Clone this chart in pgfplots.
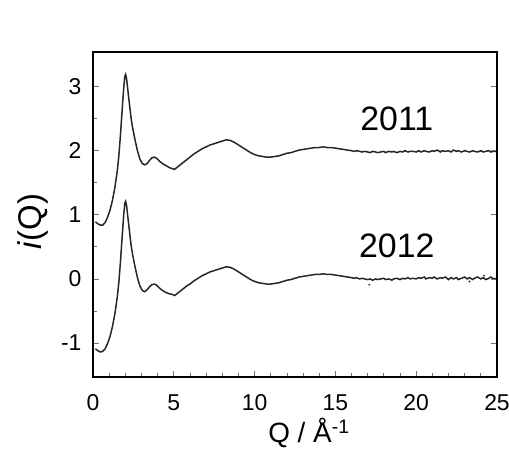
\documentclass[border=0pt]{standalone}
\usepackage{fontspec}
\setmainfont{Liberation Sans}
\usepackage{pgfplots}
\pgfplotsset{compat=1.18}
\usepackage{pgfplotstable}

\pgfplotstableread{
q y
0.15 0.89
0.3 0.86
0.45 0.84
0.6 0.84
0.75 0.88
0.9 0.96
1.05 1.07
1.2 1.22
1.35 1.42
1.5 1.68
1.6 1.92
1.7 2.25
1.8 2.62
1.9 2.98
1.97 3.16
2.02 3.19
2.08 3.12
2.15 2.96
2.25 2.74
2.35 2.52
2.45 2.36
2.6 2.17
2.75 2.00
2.9 1.87
3.05 1.80
3.2 1.78
3.35 1.80
3.5 1.85
3.65 1.89
3.8 1.90
3.95 1.88
4.1 1.84
4.3 1.80
4.5 1.77
4.7 1.74
4.9 1.72
5.05 1.71
5.2 1.74
5.4 1.78
5.6 1.82
5.8 1.86
6.0 1.90
6.25 1.95
6.5 1.99
6.75 2.03
7.0 2.06
7.25 2.09
7.5 2.11
7.75 2.13
8.0 2.15
8.25 2.17
8.5 2.16
8.75 2.13
9.0 2.09
9.25 2.05
9.5 2.01
9.75 1.97
10.0 1.94
10.25 1.92
10.5 1.91
10.75 1.90
11.0 1.90
11.25 1.91
11.5 1.92
11.75 1.94
12.0 1.96
12.25 1.97
12.5 1.99
12.75 2.01
13.0 2.02
13.25 2.03
13.5 2.04
13.75 2.05
14.0 2.05
14.25 2.06
14.5 2.05
14.75 2.05
15.0 2.04
15.25 2.03
15.5 2.02
15.75 2.01
16.0 2.00
16.15 1.99
16.3 2.00
16.5 1.99
16.65 1.98
16.8 1.99
17.0 1.98
17.15 1.97
17.3 1.99
17.5 1.98
17.6 1.97
17.8 1.98
18.0 1.99
18.1 1.97
18.3 1.99
18.5 1.98
18.6 1.99
18.8 1.97
19.0 1.99
19.15 1.98
19.3 2.00
19.5 1.98
19.6 1.99
19.8 1.99
20.0 1.98
20.15 2.00
20.3 1.98
20.5 2.00
20.6 1.99
20.8 1.98
21.0 2.00
21.1 1.99
21.3 2.01
21.5 1.98
21.6 2.00
21.8 1.99
22.0 2.00
22.15 1.98
22.3 2.01
22.5 1.99
22.6 2.00
22.8 1.98
23.0 2.00
23.15 1.99
23.3 1.98
23.5 2.00
23.6 1.99
23.8 1.98
24.0 2.00
24.15 1.98
24.3 1.99
24.5 2.00
24.6 1.98
24.8 1.99
25.0 1.99
}\dataA

\pgfplotstableread{
q y
0.15 -1.09
0.3 -1.12
0.45 -1.14
0.6 -1.13
0.75 -1.09
0.9 -1.01
1.05 -0.90
1.2 -0.75
1.35 -0.55
1.5 -0.29
1.6 -0.05
1.7 0.27
1.8 0.64
1.9 1.00
1.97 1.18
2.02 1.21
2.08 1.14
2.15 0.98
2.25 0.76
2.35 0.54
2.45 0.38
2.6 0.19
2.75 0.02
2.9 -0.11
3.05 -0.18
3.2 -0.20
3.35 -0.17
3.5 -0.12
3.65 -0.09
3.8 -0.08
3.95 -0.10
4.1 -0.14
4.3 -0.18
4.5 -0.21
4.7 -0.23
4.9 -0.24
5.05 -0.26
5.2 -0.23
5.4 -0.19
5.6 -0.15
5.8 -0.11
6.0 -0.08
6.25 -0.03
6.5 0.01
6.75 0.05
7.0 0.08
7.25 0.11
7.5 0.13
7.75 0.15
8.0 0.17
8.25 0.19
8.5 0.18
8.75 0.15
9.0 0.11
9.25 0.07
9.5 0.03
9.75 -0.01
10.0 -0.04
10.25 -0.06
10.5 -0.07
10.75 -0.08
11.0 -0.08
11.25 -0.07
11.5 -0.06
11.75 -0.04
12.0 -0.02
12.25 -0.01
12.5 0.01
12.75 0.03
13.0 0.04
13.25 0.05
13.5 0.06
13.75 0.07
14.0 0.07
14.25 0.08
14.5 0.07
14.75 0.07
15.0 0.06
15.25 0.05
15.5 0.04
15.75 0.03
16.0 0.02
16.15 0.01
16.3 0.02
16.5 0.00
16.65 0.01
16.8 0.00
17.0 -0.01
17.15 0.00
17.3 -0.02
17.5 0.00
17.6 -0.01
17.8 0.00
18.0 0.01
18.1 -0.01
18.3 0.00
18.5 -0.02
18.6 0.00
18.8 0.01
19.0 -0.01
19.15 0.01
19.3 0.00
19.5 0.02
19.6 0.00
19.8 0.01
20.0 0.00
20.15 0.02
20.3 0.01
20.5 0.03
20.6 0.00
20.8 0.02
21.0 0.01
21.1 0.03
21.3 0.00
21.5 0.02
21.6 0.01
21.8 0.03
22.0 -0.01
22.15 0.02
22.3 0.00
22.5 0.02
22.6 -0.01
22.8 0.01
23.0 0.03
23.15 0.00
23.3 0.02
23.5 -0.01
23.6 0.01
23.8 0.03
24.0 0.00
24.15 0.02
24.3 -0.01
24.5 0.01
24.6 0.03
24.8 0.00
25.0 0.01
}\dataB

\begin{document}
\begin{tikzpicture}
\path[use as bounding box] (-93bp,-73bp) rectangle (416bp,377bp);
\begin{axis}[
  at={(0,0)}, anchor=south west,
  scale only axis, width=404bp, height=325bp,
  xmin=0, xmax=25, ymin=-1.53, ymax=3.54,
  xtick={0,5,...,25}, ytick={-1,0,1,2,3},
  minor x tick num=4, minor y tick num=1,
  xtick pos=left, ytick pos=left,
  tick align=inside,
  major tick length=6bp, minor tick length=4bp,
  every tick/.style={black!55, line width=0.8bp},
  axis line style={line width=2.5bp, black},
  /pgf/number format/assume math mode=true,
  tick label style={font=\fontsize{23}{25}\selectfont},
  xticklabel style={yshift=-14bp},
  yticklabel style={xshift=-8bp},
  xlabel={Q / Å\textsuperscript{-1}},
  ylabel={\textit{i}(Q)},
  xlabel style={font=\fontsize{28}{30}\selectfont, xshift=14bp, yshift=-1bp},
  ylabel style={font=\fontsize{33}{35}\selectfont, yshift=6bp, xshift=-7bp},
  clip=true,
]
\addplot[black!85, line width=1.5bp] table[x=q, y=y] {\dataA};
\addplot[black!85, line width=1.5bp] table[x=q, y=y] {\dataB};
\addplot[only marks, mark=*, mark size=0.8bp, black!70] coordinates {(17.1,-0.09) (24.2,0.05) (23.3,-0.04)};
\node[font=\fontsize{34}{36}\selectfont] at (axis cs:18.8,2.49) {2011};
\node[font=\fontsize{34}{36}\selectfont] at (axis cs:18.8,0.52) {2012};
\end{axis}
\begin{axis}[
  at={(0,0)}, anchor=south west,
  scale only axis, width=404bp, height=325bp,
  xmin=0, xmax=25, ymin=-1.53, ymax=3.54,
  xtick=\empty, ytick={-1,0,1,2,3}, yticklabels={},
  ytick pos=right, tick align=inside,
  major tick length=6bp,
  every tick/.style={black!55, line width=0.8bp},
  axis line style={line width=2.5bp, black},
]
\end{axis}
\end{tikzpicture}
\end{document}
